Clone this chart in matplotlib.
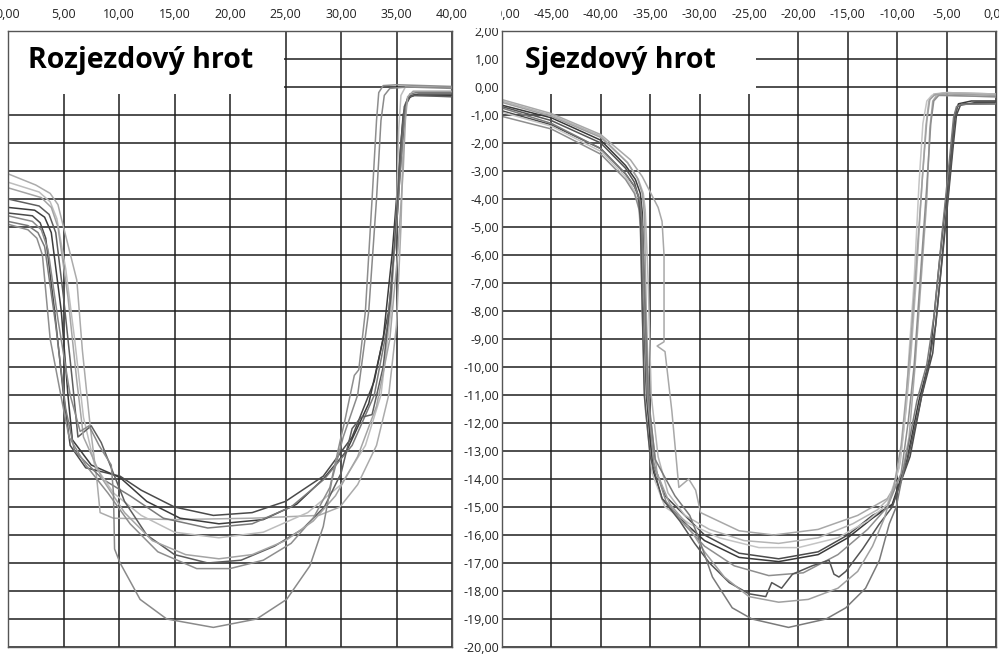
import matplotlib
matplotlib.use('Agg')
import matplotlib.pyplot as plt
from matplotlib.patches import Rectangle
from matplotlib.ticker import FuncFormatter, MultipleLocator

plt.rcParams['font.family'] = ['Open Sans', 'DejaVu Sans']

# Rozjezdový hrot - profily (x, y)
rozjezd_1 = [(0, -3.1), (2.5, -3.5), (3.8, -3.8), (4.5, -4.2), (5.0, -5.0), (6.2, -6.9), (6.7, -9.4), (7.4, -12.1),
             (8.0, -14.0), (8.3, -15.2), (9.5, -15.4), (15, -15.45), (22, -15.4), (28, -15.3), (29.9, -15.0),
             (31.5, -14.2), (33.2, -12.8), (34.3, -11.0), (35.0, -8.5), (35.4, -5), (35.6, -2), (35.8, -0.6),
             (36.1, -0.35), (36.6, -0.3), (40, -0.3)]
rozjezd_2 = [(0, -4.5), (2.2, -4.6), (2.9, -4.85), (3.4, -5.4), (4.2, -8), (5.0, -11), (5.6, -12.8), (7.0, -13.6),
             (10.1, -13.9), (12, -14.4), (15, -15.0), (18.5, -15.3), (22, -15.2), (25, -14.8), (28.4, -13.9),
             (31, -12.5), (33, -10.5), (34.3, -8), (35, -5), (35.5, -2), (35.9, -0.6), (36.3, -0.3), (37, -0.25),
             (40, -0.25)]
rozjezd_3 = [(0, -4.3), (2.4, -4.4), (3.3, -4.65), (3.9, -5.2), (4.8, -8), (5.4, -11), (5.8, -12.6), (7.5, -13.5),
             (10.1, -13.95), (12.5, -14.8), (15.5, -15.4), (19, -15.6), (23, -15.45), (26, -14.9), (28.4, -14.0),
             (30.5, -13), (32.5, -11.3), (33.8, -9), (34.6, -6), (35.2, -3), (35.6, -1.0), (36.0, -0.4),
             (36.6, -0.3), (40, -0.3)]
rozjezd_4 = [(0, -4.8), (1.8, -4.95), (2.7, -5.2), (3.3, -5.7), (4.3, -8.5), (5.2, -11.5), (6.0, -13.0), (8.5, -14.0),
             (11, -14.6), (14, -15.4), (18, -15.75), (22, -15.6), (25.5, -15.0), (28.5, -14.0), (31, -12.8),
             (33, -11), (34.2, -8.5), (35, -5), (35.5, -2), (35.8, -0.7), (36.2, -0.25), (36.8, -0.2), (40, -0.2)]
rozjezd_5 = [(0, -3.4), (2.8, -3.75), (3.8, -4.1), (4.4, -4.7), (5.2, -6.5), (6.0, -9), (6.8, -11.8), (7.8, -13.5),
             (9.5, -14.5), (12, -15.3), (15, -15.9), (19, -16.1), (23, -15.9), (27, -15.2), (30, -14.2),
             (32.2, -12.8), (33.6, -11), (34.5, -8), (35.0, -4.5), (35.2, -1.5), (35.4, -0.3), (35.8, 0.0),
             (36.5, 0.02), (40, 0.0)]
rozjezd_6 = [(0, -4.0), (2.8, -4.25), (3.7, -4.55), (4.3, -5.2), (5.0, -7.5), (5.8, -10.5), (6.3, -12.5),
             (7.5, -12.1), (8.4, -12.7), (9.2, -13.5), (10.5, -14.8), (12.5, -16.0), (15, -16.7), (18, -17.0),
             (21, -16.9), (24, -16.4), (26.5, -15.8), (28.5, -15.0), (30, -13.8), (31, -12.2), (31.8, -11.8),
             (32.8, -11.7), (33.8, -10), (34.5, -7.5), (35.0, -4.5), (35.4, -2), (35.7, -0.7), (36.1, -0.35),
             (36.6, -0.3), (40, -0.35)]
rozjezd_7 = [(0, -4.9), (1.8, -5.1), (2.6, -5.4), (3.1, -6.0), (3.8, -9), (4.9, -11.3), (5.5, -12.5), (7, -13.5),
             (9, -14.5), (11, -15.6), (13.5, -16.6), (17, -17.2), (20, -17.2), (23, -16.9), (25.5, -16.3),
             (27.5, -15.4), (29, -14.3), (30, -12.5), (30.3, -12.0), (31.2, -10.3), (31.6, -10.1), (32.2, -8),
             (32.8, -4), (33.2, -1.2), (33.4, -0.2), (33.8, 0.05), (35, 0.08), (40, 0.02)]
rozjezd_8 = [(0, -3.6), (3.0, -3.95), (3.9, -4.3), (4.5, -5.0), (5.4, -7.5), (6.2, -10.5), (6.8, -12.5), (8.5, -14),
             (10.5, -15.2), (13, -16.2), (16, -16.7), (19, -16.85), (22, -16.7), (25, -16.2), (27.5, -15.5),
             (29.5, -14.6), (31.5, -13.2), (33.2, -11.4), (34.4, -9), (35.1, -6), (35.6, -3), (35.8, -1.2),
             (36.0, -0.35), (36.5, -0.15), (40, -0.15)]
rozjezd_9 = [(0, -4.6), (2.2, -4.8), (3.0, -5.1), (3.6, -5.8), (4.5, -8.3), (5.6, -11), (6.5, -12.3), (7.3, -12.1),
             (8.2, -12.8), (9.3, -13.5), (9.5, -14.5), (9.6, -16.5), (10.1, -17.0), (11.9, -18.3), (14.3, -19.0),
             (18.5, -19.3), (22.4, -19.0), (25.1, -18.3), (27.2, -17.1), (28.4, -15.7), (29.2, -14.0),
             (30.2, -12.5), (31.5, -11), (32.5, -8), (33.2, -4), (33.6, -1.2), (33.9, -0.3), (34.4, -0.05),
             (36, 0.0), (40, -0.05)]

# Sjezdový hrot - profily (x, y)
sjezd_1 = [(-50, -0.45), (-45, -0.95), (-40, -1.7), (-37, -2.6), (-35.8, -3.2), (-35.0, -3.75), (-34.2, -4.3),
           (-33.8, -4.8), (-33.6, -6), (-33.6, -9.1), (-34.3, -9.25), (-33.5, -9.45), (-32.8, -11.6),
           (-32.1, -14.3), (-31.1, -14.0), (-30.4, -14.4), (-29.9, -15.2), (-26, -15.85), (-22.5, -16.0),
           (-18, -15.8), (-14, -15.3), (-11, -14.7), (-9.5, -13.8), (-8.8, -12.5), (-8.2, -10), (-7.8, -8),
           (-7.0, -4), (-6.7, -1.5), (-6.4, -0.5), (-5.9, -0.25), (-5, -0.2), (0, -0.25)]
sjezd_2 = [(-50, -0.85), (-45, -1.35), (-40, -2.2), (-37.5, -3.1), (-36.6, -3.55), (-36.1, -4.0), (-35.9, -4.7),
           (-35.7, -8), (-35.4, -11), (-34.8, -13.3), (-33.5, -14.6), (-31.5, -15.3), (-29.5, -16.0),
           (-26, -16.65), (-22, -16.85), (-18, -16.6), (-15, -16.0), (-12.5, -15.3), (-10.5, -14.95),
           (-8.7, -13.2), (-7.5, -11), (-6.4, -9.5), (-5.4, -6), (-4.3, -2), (-4.0, -1.0), (-3.6, -0.65),
           (-2, -0.55), (0, -0.55)]
sjezd_3 = [(-50, -0.65), (-45, -1.1), (-40, -1.9), (-37.5, -2.8), (-36.5, -3.3), (-36.0, -3.8), (-35.8, -4.5),
           (-35.6, -7), (-35.3, -11), (-34.8, -13.6), (-33.8, -14.7), (-31.7, -15.5), (-29.5, -16.2),
           (-26, -16.8), (-22, -16.95), (-18, -16.7), (-15, -16.1), (-12.5, -15.4), (-10.5, -14.9),
           (-9.0, -13.3), (-7.8, -11.2), (-6.7, -9.7), (-5.8, -6.5), (-4.6, -2.5), (-4.2, -1.0), (-3.8, -0.6),
           (-2.5, -0.5), (0, -0.5)]
sjezd_4 = [(-50, -0.5), (-45, -1.0), (-40, -1.75), (-37.3, -2.7), (-36.2, -3.3), (-35.7, -3.8), (-35.5, -4.4),
           (-35.2, -7), (-34.9, -11), (-34.2, -13.2), (-33.2, -14.5), (-31.5, -15.3), (-29, -15.8),
           (-25.5, -16.2), (-22, -16.3), (-18, -16.1), (-14.5, -15.6), (-12, -15.1), (-10.6, -14.6),
           (-9.7, -13.4), (-9.1, -11.5), (-8.6, -9.5), (-8.1, -7), (-7.5, -3.5), (-7.1, -1.4), (-6.8, -0.5),
           (-6.3, -0.25), (-5, -0.2), (0, -0.25)]
sjezd_5 = [(-50, -0.9), (-45, -1.4), (-40, -2.3), (-37.5, -3.2), (-36.6, -3.7), (-36.2, -4.2), (-36.0, -5.0),
           (-35.8, -8), (-35.5, -11.5), (-34.8, -13.8), (-33.5, -15.0), (-31, -15.6), (-28, -16.1),
           (-24, -16.45), (-20, -16.45), (-16, -16.1), (-13, -15.5), (-11, -14.9), (-9.8, -13.6), (-9.2, -11.8),
           (-8.8, -9.5), (-8.3, -7), (-7.8, -3.5), (-7.4, -1.3), (-7.0, -0.5), (-6.5, -0.3), (-5.5, -0.3),
           (0, -0.35)]
sjezd_6 = [(-50, -1.05), (-45, -1.5), (-40, -2.4), (-37.5, -3.3), (-36.6, -3.8), (-36.1, -4.4), (-35.9, -5.2),
           (-35.6, -8), (-35.3, -11), (-34.6, -13.5), (-33.4, -14.8), (-31.6, -15.6), (-29.5, -16.4),
           (-26.5, -17.1), (-23, -17.45), (-19.5, -17.35), (-16, -16.7), (-13, -15.8), (-11, -15.0),
           (-9.6, -13.8), (-8.9, -12), (-8.3, -10), (-7.7, -7), (-7.0, -3.5), (-6.6, -1.3), (-6.3, -0.5),
           (-5.8, -0.3), (-5, -0.3), (0, -0.35)]
sjezd_7 = [(-50, -0.7), (-45, -1.2), (-40, -2.0), (-37.5, -2.9), (-36.6, -3.4), (-36.2, -3.9), (-36.0, -4.7),
           (-35.8, -8), (-35.6, -11), (-35.0, -13.2), (-33.8, -14.7), (-32, -15.5), (-30.5, -16.3), (-29, -17.0),
           (-27, -17.7), (-25, -18.1), (-23.3, -18.2), (-22.7, -17.7), (-21.7, -17.9), (-20.6, -17.4),
           (-18.6, -17.1), (-16.9, -16.9), (-16.4, -17.4), (-15.9, -17.5), (-15.2, -17.3), (-13.5, -16.5),
           (-11.8, -15.6), (-10.5, -15.0), (-9.0, -13.4), (-7.8, -11.5), (-6.8, -9.8), (-6.1, -8.5),
           (-5.3, -5.5), (-4.5, -2.5), (-4.2, -1.2), (-3.9, -0.7), (-3.4, -0.6), (0, -0.6)]
sjezd_8 = [(-50, -0.55), (-45, -1.05), (-40, -1.8), (-37.3, -2.7), (-36.3, -3.25), (-35.8, -3.8), (-35.6, -4.5),
           (-35.4, -8), (-35.1, -11.5), (-34.3, -13.8), (-33.0, -14.9), (-31.3, -15.6), (-29.5, -16.6),
           (-27.5, -17.5), (-25, -18.2), (-22, -18.4), (-19, -18.3), (-16, -17.9), (-14, -17.3), (-12.5, -16.4),
           (-11.3, -15.4), (-10.3, -14.2), (-9.6, -12.8), (-9.1, -11), (-8.6, -9), (-8.0, -6), (-7.4, -3),
           (-7.0, -1.2), (-6.7, -0.45), (-6.2, -0.28), (-5, -0.25), (0, -0.3)]
sjezd_9 = [(-50, -0.75), (-45, -1.3), (-40, -2.2), (-37.5, -3.1), (-36.5, -3.6), (-36.0, -4.1), (-35.8, -4.9),
           (-35.5, -8), (-35.2, -11), (-34.5, -13.3), (-32.5, -14.6), (-31, -15.3), (-30.1, -16.1),
           (-28.7, -17.5), (-26.7, -18.6), (-24.7, -19.0), (-21.0, -19.3), (-17.2, -19.0), (-15.2, -18.6),
           (-13.2, -17.9), (-11.8, -16.9), (-10.8, -15.6), (-10.1, -15.0), (-9.2, -13.4), (-8.0, -11.2),
           (-7.0, -9.9), (-6.2, -8.0), (-5.4, -5), (-4.6, -2.2), (-4.3, -1.1), (-4.0, -0.7), (-3.5, -0.62),
           (0, -0.6)]

rozjezd = [rozjezd_1, rozjezd_2, rozjezd_3, rozjezd_4, rozjezd_5, rozjezd_6, rozjezd_7, rozjezd_8, rozjezd_9]
rozjezd_colors = ['#ababab', '#4a4a4a', '#3c3c3c', '#7a7a7a', '#bdbdbd', '#5e5e5e', '#8e8e8e', '#a4a4a4', '#8a8a8a']
sjezd = [sjezd_1, sjezd_2, sjezd_3, sjezd_4, sjezd_5, sjezd_6, sjezd_7, sjezd_8, sjezd_9]
sjezd_colors = ['#a8a8a8', '#4a4a4a', '#3a3a3a', '#b5b5b5', '#c4c4c4', '#8e8e8e', '#555555', '#a0a0a0', '#7a7a7a']

W, H = 999, 655
fmt = FuncFormatter(lambda v, p: f'{v:.2f}'.replace('.', ','))

figure = plt.figure(figsize=(W / 100, H / 100), dpi=100)
figure.patch.set_facecolor('white')

def panel(rect, xlim, curves, colors, title, box_right, title_x, show_y):
    axis = figure.add_axes([rect[0] / W, 1 - rect[3] / H, (rect[2] - rect[0]) / W, (rect[3] - rect[1]) / H])
    axis.set_xlim(*xlim)
    axis.set_ylim(-20, 2)
    axis.xaxis.set_major_locator(MultipleLocator(5))
    axis.yaxis.set_major_locator(MultipleLocator(1))
    axis.xaxis.set_major_formatter(fmt)
    axis.yaxis.set_major_formatter(fmt)
    axis.xaxis.tick_top()
    axis.tick_params(axis='x', length=0, pad=7, labelsize=9, colors='#222222')
    axis.tick_params(axis='y', length=0, pad=2, labelsize=9, colors='#222222', labelleft=show_y)
    axis.grid(True, color='#1e1e1e', linewidth=1.1)
    for spine in axis.spines.values():
        spine.set_color('#555555')
        spine.set_linewidth(1.0)
    # bílý rámeček s nadpisem
    axis.add_patch(Rectangle((xlim[0], -0.25), box_right - xlim[0], 2.25, facecolor='white',
                             edgecolor='none', zorder=1.8))
    for pts, c in zip(curves, colors):
        xs = [p[0] for p in pts]
        ys = [p[1] for p in pts]
        axis.plot(xs, ys, color=c, linewidth=1.1, zorder=2, solid_joinstyle='round')
    axis.text(title_x, 0.95, title, fontsize=20.5, fontweight='bold', color='black',
              ha='left', va='center', zorder=3)
    return axis

left = panel((8, 31, 452, 647), (0, 40), rozjezd, rozjezd_colors, 'Rozjezdový hrot', 24.85, 1.8, False)
right = panel((502, 31, 996, 647), (-50, 0), sjezd, sjezd_colors, 'Sjezdový hrot', -24.3, -47.7, True)

# překrytí levé části popisku -50,00
figure.add_artist(Rectangle((469 / W, 1 - 28 / H), 32 / W, 28 / H, transform=figure.transFigure,
                            facecolor='white', edgecolor='none', zorder=10))

figure.savefig('out.png', dpi=100)
